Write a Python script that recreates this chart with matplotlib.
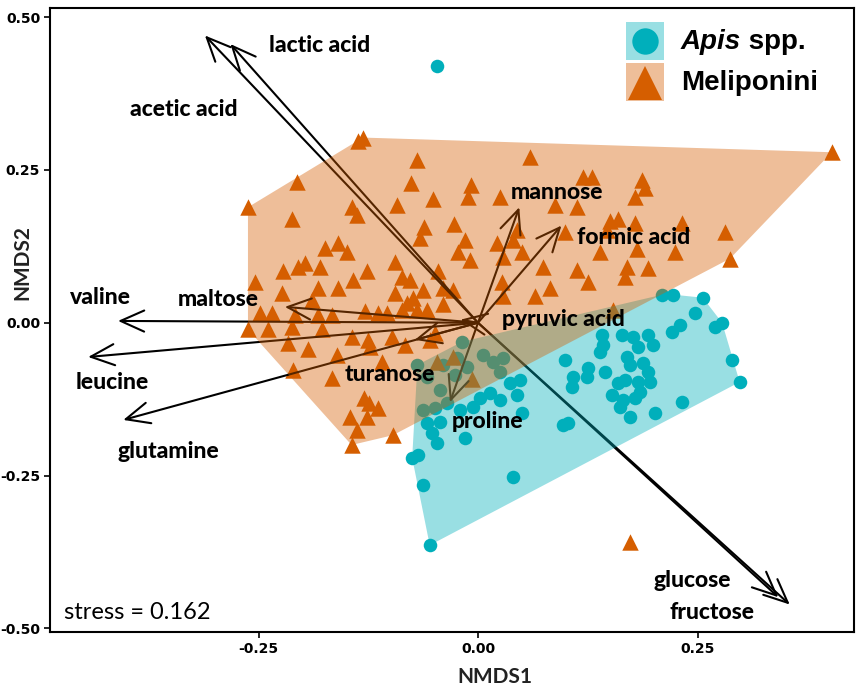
import matplotlib
matplotlib.use("Agg")
import matplotlib.pyplot as plt
from matplotlib.patches import Rectangle
import numpy as np

# NMDS site scores, Apis spp. honeys
apis_x = [0.210, 0.222, 0.256, 0.247, 0.221, 0.230, 0.270, 0.278, 0.141, 0.164,
          0.177, 0.194, 0.199, 0.182, 0.139, 0.099, 0.170, 0.173, 0.188, 0.194,
          0.145, 0.125, 0.124, 0.108, 0.107, 0.159, 0.167, 0.182, 0.185, 0.196,
          0.153, 0.165, 0.179, 0.162, 0.173, 0.202, 0.232, 0.289, 0.298, 0.097,
          0.103, 0.142, -0.018, -0.069, -0.040, -0.024, -0.058, -0.043, -0.026, 0.006,
          0.017, 0.028, 0.025, -0.063, -0.049, -0.035, -0.058, -0.052, -0.047, -0.043,
          -0.021, -0.006, 0.002, 0.014, 0.025, 0.036, 0.048, 0.044, 0.050, -0.015,
          -0.068, -0.075, -0.063, 0.040, -0.055, -0.013]
apis_y = [0.046, 0.046, 0.041, 0.016, -0.015, -0.003, -0.007, 0.000, -0.020, -0.020,
          -0.023, -0.020, -0.036, -0.039, -0.048, -0.061, -0.056, -0.069, -0.066, -0.080,
          -0.080, -0.074, -0.089, -0.089, -0.105, -0.098, -0.093, -0.097, -0.113, -0.097,
          -0.118, -0.126, -0.123, -0.138, -0.154, -0.148, -0.130, -0.061, -0.097, -0.167,
          -0.164, -0.036, -0.031, -0.069, -0.069, -0.057, -0.089, -0.110, -0.085, -0.052,
          -0.064, -0.057, -0.080, -0.143, -0.139, -0.131, -0.164, -0.180, -0.197, -0.162,
          -0.143, -0.138, -0.123, -0.115, -0.126, -0.098, -0.093, -0.118, -0.148, -0.189,
          -0.216, -0.221, -0.266, -0.252, -0.364, -0.072]

# NMDS site scores, Meliponini honeys
meli_x = [-0.131, -0.137, -0.069, -0.206, -0.076, -0.008, -0.011, -0.262, -0.051, -0.092,
          -0.144, -0.138, -0.212, -0.062, -0.027, -0.066, 0.059, 0.120, 0.130, 0.187,
          0.190, 0.025, 0.088, 0.113, 0.179, 0.044, 0.099, 0.150, 0.159, 0.179,
          0.147, 0.403, 0.232, 0.281, -0.159, -0.149, -0.174, -0.015, 0.040, 0.022,
          -0.095, -0.087, -0.077, -0.197, -0.205, -0.126, -0.222, -0.142, -0.046, -0.023,
          -0.009, -0.254, -0.223, -0.182, -0.159, -0.095, -0.063, -0.028, 0.028, 0.050,
          0.139, 0.181, 0.074, 0.113, 0.125, 0.170, 0.167, 0.194, 0.027, 0.082,
          0.065, 0.224, 0.287, -0.180, -0.189, -0.081, -0.069, -0.040, -0.248, -0.235,
          -0.208, -0.182, -0.166, -0.129, -0.114, -0.104, -0.087, -0.058, -0.262, -0.239,
          -0.212, -0.178, -0.144, -0.125, -0.098, -0.049, -0.216, -0.194, -0.074, -0.040,
          0.028, 0.154, -0.161, -0.123, -0.083, -0.055, -0.211, -0.166, -0.109, -0.047,
          -0.028, -0.007, -0.130, -0.124, -0.114, -0.146, -0.126, -0.138, -0.144, -0.097]
meli_y = [0.303, 0.297, 0.267, 0.231, 0.228, 0.225, 0.205, 0.189, 0.202, 0.192,
          0.189, 0.177, 0.170, 0.156, 0.162, 0.139, 0.272, 0.239, 0.238, 0.234,
          0.221, 0.205, 0.193, 0.189, 0.205, 0.152, 0.149, 0.166, 0.169, 0.164,
          0.152, 0.279, 0.164, 0.148, 0.131, 0.115, 0.123, 0.136, 0.136, 0.131,
          0.100, 0.075, 0.070, 0.098, 0.092, 0.084, 0.084, 0.070, 0.084, 0.115,
          0.103, 0.066, 0.049, 0.057, 0.057, 0.049, 0.054, 0.054, 0.108, 0.116,
          0.115, 0.120, 0.092, 0.087, 0.067, 0.092, 0.075, 0.090, 0.066, 0.057,
          0.043, 0.116, 0.105, 0.092, 0.038, 0.033, 0.021, 0.030, 0.016, 0.016,
          0.013, 0.013, 0.013, 0.020, 0.016, 0.016, 0.021, 0.021, -0.011, -0.011,
          -0.007, -0.011, -0.023, -0.028, -0.023, -0.016, -0.033, -0.043, 0.041, 0.057,
          0.043, 0.021, -0.052, -0.039, -0.036, -0.028, -0.077, -0.090, -0.064, -0.064,
          -0.056, -0.092, -0.123, -0.131, -0.139, -0.154, -0.154, -0.175, -0.200, -0.184]

# samples not enclosed by the group hulls
apis_out_x = [-0.047]
apis_out_y = [0.420]
meli_out_x = [0.173]
meli_out_y = [-0.359]

# envfit vectors
vec_names = ["lactic acid", "acetic acid", "glucose", "fructose", "valine", "leucine",
             "glutamine", "maltose", "turanose", "proline", "mannose", "formic acid",
             "pyruvic acid"]
vec_x = [-0.282, -0.311, 0.342, 0.355, -0.410, -0.444, -0.404, -0.220, -0.072, -0.032,
         0.047, 0.095, -0.020]
vec_y = [0.456, 0.470, -0.449, -0.461, 0.003, -0.056, -0.159, 0.026, -0.028, -0.130,
         0.189, 0.159, 0.005]
lab_x = [-0.180, -0.335, 0.244, 0.267, -0.430, -0.416, -0.353, -0.296, -0.100, 0.011,
         0.090, 0.177, 0.097]
lab_y = [0.454, 0.349, -0.421, -0.474, 0.041, -0.097, -0.211, 0.038, -0.085, -0.162,
         0.213, 0.139, 0.005]

APIS = "#00AFBB"
MELI = "#D55E00"


def hull(x, y):
    # monotone chain convex hull
    pts = sorted(set(zip(x, y)))

    def cross(o, a, b):
        return (a[0] - o[0]) * (b[1] - o[1]) - (a[1] - o[1]) * (b[0] - o[0])

    lower, upper = [], []
    for p in pts:
        while len(lower) >= 2 and cross(lower[-2], lower[-1], p) <= 0:
            lower.pop()
        lower.append(p)
    for p in reversed(pts):
        while len(upper) >= 2 and cross(upper[-2], upper[-1], p) <= 0:
            upper.pop()
        upper.append(p)
    return np.array(lower[:-1] + upper[:-1])


fig = plt.figure(figsize=(8.57, 6.89), dpi=100)
ax = fig.add_axes([0.0583, 0.0827, 0.938, 0.9057])

ax.scatter(apis_x + apis_out_x, apis_y + apis_out_y, s=95, marker="o",
           color=APIS, linewidths=0, zorder=1)
ax.scatter(meli_x + meli_out_x, meli_y + meli_out_y, s=140, marker="^",
           color=MELI, linewidths=0, zorder=1)

for vx, vy in zip(vec_x, vec_y):
    ax.annotate("", xy=(vx, vy), xytext=(0, 0), zorder=2,
                arrowprops=dict(arrowstyle="->,head_length=0.85,head_width=0.38",
                                lw=1.5, color="black", shrinkA=0, shrinkB=0,
                                mutation_scale=20))

h = hull(apis_x, apis_y)
ax.fill(h[:, 0], h[:, 1], color=APIS, alpha=0.4, lw=0, zorder=3)
h = hull(meli_x, meli_y)
ax.fill(h[:, 0], h[:, 1], color=MELI, alpha=0.4, lw=0, zorder=4)

for name, lx, ly in zip(vec_names, lab_x, lab_y):
    ax.text(lx, ly, name, ha="center", va="center", fontsize=16.5,
            fontfamily="Lato", fontweight="black", zorder=6)

ax.text(-0.472, -0.474, "stress = 0.162", ha="left", va="center", fontsize=17,
        fontfamily="Lato", zorder=6)

# legend
ax.add_patch(Rectangle((0.717, 0.917), 0.047, 0.061, transform=ax.transAxes,
                       color=APIS, alpha=0.4, lw=0, zorder=6))
ax.add_patch(Rectangle((0.717, 0.851), 0.047, 0.061, transform=ax.transAxes,
                       color=MELI, alpha=0.4, lw=0, zorder=6))
ax.plot([0.7405], [0.947], marker="o", ms=19, color=APIS, mew=0,
        transform=ax.transAxes, zorder=7)
ax.plot([0.7405], [0.879], marker="^", ms=25, color=MELI, mew=0,
        transform=ax.transAxes, zorder=7)
t = ax.text(0.785, 0.946, "Apis", transform=ax.transAxes, ha="left", va="center",
            fontsize=20, fontfamily="Liberation Sans", fontweight="bold",
            fontstyle="italic", zorder=7)
ax.annotate(" spp.", xy=(1, 0), xycoords=t, ha="left", va="bottom", fontsize=20,
            fontfamily="Liberation Sans", fontweight="bold", zorder=7)
ax.text(0.785, 0.880, "Meliponini", transform=ax.transAxes, ha="left", va="center",
        fontsize=20, fontfamily="Liberation Sans", fontweight="bold", zorder=7)

ax.set_xlim(-0.4875, 0.428)
ax.set_ylim(-0.506, 0.515)
ax.set_xticks([-0.25, 0.0, 0.25])
ax.set_xticklabels(["-0.25", "0.00", "0.25"])
ax.set_yticks([-0.5, -0.25, 0.0, 0.25, 0.5])
ax.set_yticklabels(["-0.50", "-0.25", "0.00", "0.25", "0.50"])
ax.tick_params(direction="out", length=4, width=1.2, labelsize=10, pad=3)
for lbl in ax.get_xticklabels() + ax.get_yticklabels():
    lbl.set_fontweight("bold")
    lbl.set_fontfamily("Liberation Sans Narrow")
for sp in ax.spines.values():
    sp.set_linewidth(1.5)

# axis titles placed in figure coordinates
fig.text(495 / 857, 1 - 677 / 689, "NMDS1", ha="center", va="center",
         fontsize=15, fontfamily="Lato", fontweight="bold", color="#222222")
fig.text(22 / 857, 1 - 262 / 689, "NMDS2", ha="center", va="center",
         rotation=90, fontsize=15, fontfamily="Lato", fontweight="bold",
         color="#222222")

fig.savefig("out.png", dpi=100)
